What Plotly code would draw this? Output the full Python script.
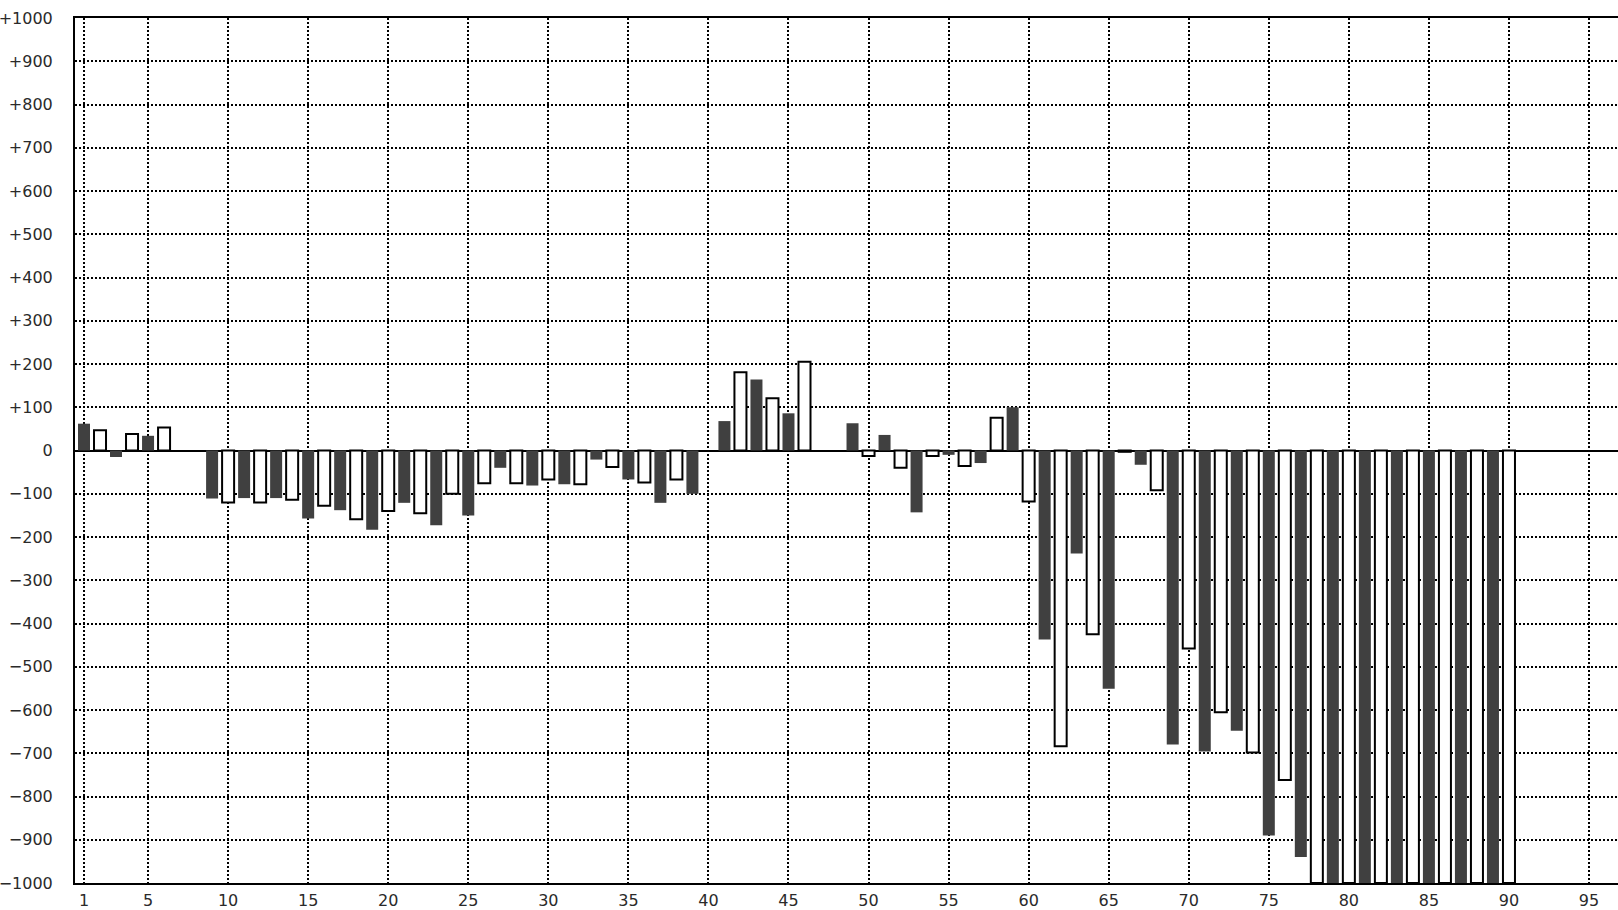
import plotly.graph_objects as go

positions = list(range(1, 91))
values = [
    62, 47, -15, 38, 34, 53, 0, 0, -111, -120,
    -110, -120, -110, -114, -157, -128, -138, -159, -183, -140,
    -121, -145, -173, -100, -150, -76, -40, -76, -81, -67,
    -78, -78, -21, -38, -67, -74, -121, -67, -100, 0,
    68, 181, 164, 121, 86, 205, 0, 0, 63, -13,
    36, -40, -143, -13, -10, -36, -29, 76, 100, -118,
    -437, -684, -238, -425, -551, -3, -33, -92, -680, -458,
    -696, -605, -648, -698, -890, -762, -940, -1000, -1000, -1000,
    -1000, -1000, -1000, -1000, -1000, -1000, -1000, -1000, -1000, -1000,
]
xtick_vals = [1] + list(range(5, 100, 5))
ytick_vals = list(range(-1000, 1001, 100))
ytick_text = [("+%d" % v) if v > 0 else ("0" if v == 0 else "\u2212%d" % (-v)) for v in ytick_vals]

odd_x = [p for p in positions if p % 2 == 1 and values[p - 1] != 0]
odd_y = [values[p - 1] for p in odd_x]
even_x = [p for p in positions if p % 2 == 0 and values[p - 1] != 0]
even_y = [values[p - 1] for p in even_x]

fig = go.Figure()
fig.add_trace(go.Bar(x=odd_x, y=odd_y, width=0.75,
                     marker=dict(color="#404040", line=dict(width=0))))
fig.add_trace(go.Bar(x=even_x, y=even_y, width=0.75,
                     marker=dict(color="white", line=dict(color="black", width=2))))

fig.update_layout(
    width=1618, height=910,
    margin=dict(l=75, r=0, t=18, b=21),
    plot_bgcolor="white", paper_bgcolor="white",
    barmode="overlay", showlegend=False,
    font=dict(family="DejaVu Sans", size=16, color="#2a2a2a"),
)
fig.update_xaxes(
    range=[0.4375, 96.81], tickvals=xtick_vals, ticktext=[str(v) for v in xtick_vals],
    showgrid=True, gridcolor="black", gridwidth=2, griddash="2px,2px",
    showline=True, linecolor="black", linewidth=2, mirror=True,
    ticks="", zeroline=False, ticklabelstandoff=2,
)
fig.update_yaxes(
    range=[-1000, 1000], tickvals=ytick_vals, ticktext=ytick_text,
    showgrid=True, gridcolor="black", gridwidth=2, griddash="2px,2px",
    showline=True, linecolor="black", linewidth=2, mirror=False,
    zeroline=True, zerolinecolor="black", zerolinewidth=2,
    ticks="", ticklabelstandoff=17, automargin=False,
)
fig.write_html("out.html", config={"displayModeBar": False},
               post_script="document.body.style.margin='0';document.body.style.overflow='hidden';")
